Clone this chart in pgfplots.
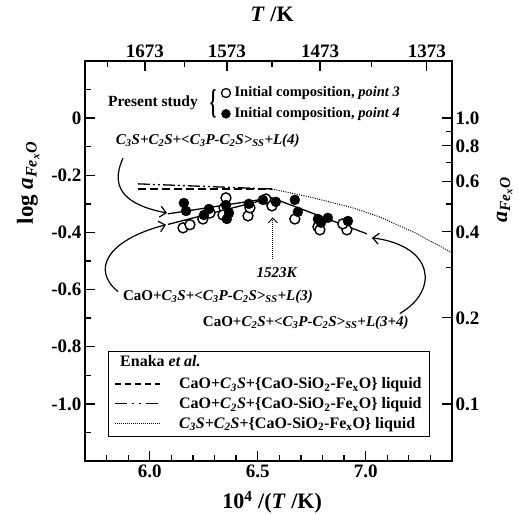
\documentclass[border=0pt]{standalone}
\usepackage{fontspec}
\setmainfont{Liberation Serif}
\usepackage{graphicx}
\usepackage{pgfplots}
\pgfplotsset{compat=1.18}
\usetikzlibrary{arrows.meta}

\newcommand{\fs}[1]{\fontsize{#1}{#1}\selectfont\bfseries}
\newcommand{\aFe}{\textit{a}\textsubscript{\textit{Fe\textsubscript{x}O}}}

\pgfplotsset{
  frame/.style={
    scale only axis, width=367pt, height=400pt,
    xmin=5.7, xmax=7.4, ymin=-1.2, ymax=0.2,
    axis line style={line width=1.6pt},
    tick align=inside,
    major tick length=10pt, minor tick length=6pt,
    every tick/.style={black, line width=1.3pt},
    tick label style={font=\fs{19}},
    label style={font=\fs{22}},
  },
}

\begin{document}
\begin{tikzpicture}
\begin{axis}[frame, name=ax,
  xtick={6.0,6.5,7.0}, xticklabels={6.0,6.5,7.0},
  minor xtick={5.8,5.9,6.1,6.2,6.3,6.4,6.6,6.7,6.8,6.9,7.1,7.2,7.3},
  ytick={-1,-0.8,-0.6,-0.4,-0.2,0},
  yticklabels={-1.0,-0.8,-0.6,-0.4,-0.2,0},
  minor ytick={-1.1,-0.9,-0.7,-0.5,-0.3,-0.1,0.1},
  xtick pos=left, ytick pos=left,
  xlabel={10\textsuperscript{4} /(\textit{T} /K)},
  xlabel style={at={(axis description cs:0.51,-0.103)}, anchor=center},
  ylabel={log \aFe},
  ylabel style={at={(axis description cs:-0.155,0.695)}, anchor=center, font=\fs{23}},
  legend style={at={(rel axis cs:0.0627,0.06)}, anchor=south west,
    draw=black, line width=0.9pt, fill=white, font=\fs{16},
    inner xsep=6pt, inner ysep=5pt, row sep=3pt, column sep=12pt,
    nodes={inner sep=2pt}},
  legend cell align=left,
  legend image code/.code={\draw[#1] (0pt,0pt) -- (45pt,0pt); \path[draw=none] (0pt,0pt) -- (50pt,0pt);},
]
% Enaka et al.
\addplot[forget plot, black, line width=1.3pt, dash pattern=on 8pt off 4pt]
  coordinates {(5.945,-0.248)(6.566,-0.248)};
\addplot[forget plot, black, line width=1.3pt, dash pattern=on 12pt off 3pt on 2pt off 3pt on 2pt off 3pt]
  coordinates {(5.945,-0.230)(6.566,-0.248)};
\addplot[forget plot, black, line width=1pt, dash pattern=on 1pt off 1.3pt]
  coordinates {(6.566,-0.248)(6.742,-0.276)(6.941,-0.314)(7.066,-0.346)(7.228,-0.401)(7.400,-0.471)};
% present study, fitted lines
\addplot[forget plot, black, line width=1.3pt] coordinates {(6.084,-0.335)(6.566,-0.279)};
\addplot[forget plot, black, line width=1.3pt] coordinates {(6.084,-0.372)(6.566,-0.279)};
\addplot[forget plot, black, line width=1.3pt] coordinates {(6.566,-0.279)(7.006,-0.405)};
% point 3 (open)
\addplot[forget plot, only marks, mark=*, mark size=5pt, mark options={fill=white, draw=black, line width=1.4pt}]
  coordinates {
(6.154,-0.384)(6.186,-0.373)(6.246,-0.353)(6.279,-0.332)(6.353,-0.279)(6.344,-0.314)
(6.339,-0.339)(6.455,-0.342)(6.464,-0.314)(6.538,-0.283)(6.566,-0.307)(6.672,-0.353)
(6.779,-0.380)(6.788,-0.391)(6.913,-0.391)(6.894,-0.370)
};
% point 4 (filled)
\addplot[forget plot, only marks, mark=*, mark size=5pt, mark options={fill=black, draw=black}]
  coordinates {
(6.158,-0.297)(6.168,-0.325)(6.251,-0.339)(6.274,-0.318)(6.353,-0.304)(6.367,-0.332)
(6.357,-0.353)(6.459,-0.300)(6.524,-0.286)(6.584,-0.293)(6.672,-0.286)(6.686,-0.328)
(6.779,-0.353)(6.793,-0.366)(6.825,-0.349)(6.918,-0.360)
};
% upper legend markers
\addplot[forget plot, only marks, mark=*, mark size=4.5pt, mark options={fill=white, draw=black, line width=1.3pt}]
  coordinates {(6.353,0.088)};
\addplot[forget plot, only marks, mark=*, mark size=4.5pt, mark options={fill=black}]
  coordinates {(6.353,0.015)};
\node[font=\fs{15.5}, inner sep=0pt] at (axis cs:6.015,0.052) {Present study};
\node[font=\fs{15}, inner sep=0pt] at (axis cs:6.293,0.051) {\scalebox{1.1}[2.3]{\{}};
\node[font=\fs{14.5}, anchor=west, inner sep=0pt] at (axis cs:6.392,0.088) {Initial composition, \textit{point 3}};
\node[font=\fs{14.5}, anchor=west, inner sep=0pt] at (axis cs:6.392,0.015) {Initial composition, \textit{point 4}};

% annotations
\node[font=\fs{15}] at (axis cs:6.269,-0.080)
  {\textit{C\textsubscript{3}S+C\textsubscript{2}S+<C\textsubscript{3}P-C\textsubscript{2}S>\textsubscript{SS}+L(4)}};
\node[font=\fs{15}] at (axis cs:6.316,-0.625)
  {CaO+\textit{C\textsubscript{3}S+<C\textsubscript{3}P-C\textsubscript{2}S>\textsubscript{SS}+L(3)}};
\node[font=\fs{15}] at (axis cs:6.723,-0.716)
  {CaO+\textit{C\textsubscript{2}S+<C\textsubscript{3}P-C\textsubscript{2}S>\textsubscript{SS}+L(3+4)}};
\node[font=\fs{15}] at (axis cs:6.589,-0.541) {\textit{1523K}};
\draw[line width=1.2pt, -{Straight Barb[length=6pt,width=11pt]}]
  (axis cs:5.876,-0.140) .. controls (axis cs:5.806,-0.255) and (axis cs:5.908,-0.307) .. (axis cs:6.080,-0.332);
\draw[line width=1.2pt, -{Straight Barb[length=6pt,width=11pt]}]
  (axis cs:5.853,-0.607) .. controls (axis cs:5.732,-0.534) and (axis cs:5.793,-0.429) .. (axis cs:6.075,-0.373);
\draw[line width=1.2pt, -{Straight Barb[length=6pt,width=11pt]}]
  (axis cs:7.158,-0.684) .. controls (axis cs:7.340,-0.604) and (axis cs:7.320,-0.447) .. (axis cs:7.029,-0.419);
\draw[line width=0.9pt, dash pattern=on 1pt off 1pt, -{Straight Barb[length=5pt,width=9pt]}]
  (axis cs:6.570,-0.492) -- (axis cs:6.570,-0.347);

% bottom legend (title row is written in the top axis)
\addlegendimage{empty legend}
\addlegendentry{\strut}
\addlegendimage{black, line width=1.3pt, dash pattern=on 6pt off 4pt}
\addlegendentry{CaO+\textit{C\textsubscript{3}S}+\{CaO-SiO\textsubscript{2}-Fe\textsubscript{x}O\} liquid}
\addlegendimage{black, line width=1.3pt, dash pattern=on 12pt off 5pt on 2pt off 5pt on 2pt off 5pt}
\addlegendentry{CaO+\textit{C\textsubscript{2}S}+\{CaO-SiO\textsubscript{2}-Fe\textsubscript{x}O\} liquid}
\addlegendimage{black, line width=1pt, dash pattern=on 1pt off 1pt}
\addlegendentry{\textit{C\textsubscript{3}S+C\textsubscript{2}S}+\{CaO-SiO\textsubscript{2}-Fe\textsubscript{x}O\} liquid}
\end{axis}

\begin{axis}[frame,
  xtick={5.97728,6.35728,6.78887,7.28332}, xticklabels={1673,1573,1473,1373},
  minor xtick={5.80383,6.16143,6.56599,7.02741},
  ytick={-1,-0.69897,-0.39794,-0.22185,-0.09691,0},
  yticklabels={0.1,0.2,0.4,0.6,0.8,1.0},
  minor ytick={-0.52288,-0.30103,-0.15490,-0.04576},
  xtick pos=right, ytick pos=right,
  xticklabel pos=right, yticklabel pos=right,
  xlabel={\textit{T} /K},
  xlabel style={at={(axis description cs:0.51,1.1175)}, anchor=center},
  ylabel={\aFe},
  ylabel style={at={(axis description cs:1.143,0.6525)}, anchor=center, font=\fs{22}},
]
\node[font=\fs{16}, anchor=west, inner sep=0pt] at (rel axis cs:0.0954,0.249) {Enaka \textit{et al.}};
\end{axis}
\pgfresetboundingbox
\useasboundingbox ([shift={(-85pt,-54pt)}]ax.south west) rectangle ([shift={(66pt,61pt)}]ax.north east);
\end{tikzpicture}
\end{document}
